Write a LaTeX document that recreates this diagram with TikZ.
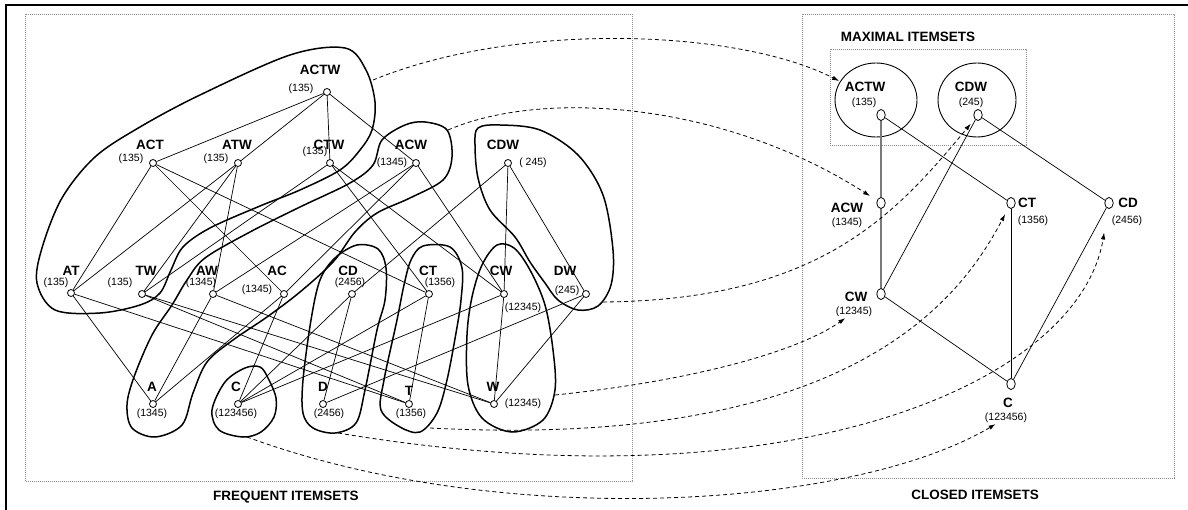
\documentclass[tikz,border=0pt]{standalone}
\usepackage{fontspec}
\setmainfont{Liberation Sans}
\usepackage{tikz}
\usetikzlibrary{arrows.meta,shapes.geometric}
\usepackage{xcolor}
\definecolor{ink}{HTML}{000000}
\definecolor{frame}{HTML}{8C8C8C}
\definecolor{chain}{HTML}{7A7A7A}
\tikzset{
  >=Latex,
  every node/.style={text=ink},
  vtx/.style={circle,draw=ink,fill=white,line width=0.8pt,inner sep=0pt,minimum size=7pt},
  cvtx/.style={ellipse,draw=ink,fill=white,line width=0.8pt,inner sep=0pt,minimum width=8.5pt,minimum height=11pt},
  iset/.style={font=\fontsize{13.5}{15}\selectfont\bfseries,inner sep=1pt},
  tid/.style={font=\fontsize{10.5}{12}\selectfont,inner sep=1pt},
  heading/.style={font=\fontsize{13.5}{15}\selectfont\bfseries,inner sep=1pt},
  lat/.style={draw=ink,line width=0.7pt},
  chainarr/.style={draw=chain,line width=1.3pt},
  blob/.style={draw=ink,line width=1.5pt},
  region/.style={draw=frame,line width=0.7pt,dash pattern=on 0.7pt off 1.3pt},
  mapto/.style={-{Latex[length=7pt,width=4.5pt]},draw=ink,line width=0.8pt,dash pattern=on 4pt off 3pt},
  maxset/.style={ellipse,draw=ink,line width=0.9pt,minimum width=82pt,minimum height=74pt,inner sep=0pt},
}

\begin{document}
\begin{tikzpicture}[x=1pt,y=-1pt]
\useasboundingbox (0,0) rectangle (1188,510);

% Frame and panels
\draw[line width=2.5pt] (6,510) -- (6,5) -- (1188,5);
\draw[region] (25,14) rectangle (632,481);
\draw[region] (802,14) rectangle (1174,478);
\draw[region] (830,49) rectangle (1026,145);
\node[heading] (freq) at (286,497) {FREQUENT ITEMSETS};
\node[heading] (closed) at (975,495) {CLOSED ITEMSETS};
\node[heading] (maximal) at (908,37) {MAXIMAL ITEMSETS};

% Frequent itemsets: equivalence classes
\draw[blob] plot[smooth cycle,tension=0.55] coordinates {(37,283) (42,248) (62,198) (95,157) (140,127) (200,95) (290,55) (345,48) (366,70) (375,102) (372,130) (360,150) (340,170) (300,190) (260,206) (210,228) (183,247) (171,270) (160,293) (140,305) (100,313) (55,310)};
\draw[blob] plot[smooth cycle,tension=0.55] coordinates {(405,125) (425,122) (447,130) (452,157) (443,180) (410,198) (377,213) (355,232) (333,262) (300,292) (267,317) (233,340) (207,362) (193,393) (182,425) (155,437) (132,428) (127,405) (134,377) (152,335) (172,305) (187,280) (205,258) (250,232) (300,207) (350,183) (373,165) (382,140)};
\draw[blob] plot[smooth cycle,tension=0.55] coordinates {(212,410) (225,382) (245,368) (260,367) (268,378) (276,398) (274,417) (261,432) (243,437) (219,430)};
\draw[blob] plot[smooth cycle,tension=0.55] coordinates {(357,245) (378,249) (386,268) (385,300) (377,330) (365,390) (356,423) (335,433) (313,428) (303,413) (303,380) (311,320) (320,280) (335,258)};
\draw[blob] plot[smooth cycle,tension=0.55] coordinates {(423,246) (450,247) (462,268) (461,300) (456,333) (447,380) (437,413) (420,432) (400,427) (381,410) (384,380) (397,320) (404,285) (411,260)};
\draw[blob] plot[smooth cycle,tension=0.55] coordinates {(497,245) (514,248) (530,270) (545,305) (553,350) (555,390) (543,420) (512,432) (482,418) (468,385) (467,335) (472,297) (482,265)};
\draw[blob] plot[smooth cycle,tension=0.55] coordinates {(478,128) (500,125) (540,130) (578,155) (603,195) (613,250) (611,285) (598,306) (578,310) (558,300) (545,283) (530,262) (515,237) (490,210) (478,178) (475,145)};

% Frequent itemsets: lattice
\node[vtx] (actw) at (327,92) {};
\node[vtx] (act) at (153,163) {};
\node[vtx] (atw) at (238,163) {};
\node[vtx] (ctw) at (330,163) {};
\node[vtx] (acw) at (416,163) {};
\node[vtx] (cdw) at (508,163) {};
\node[vtx] (at) at (71,293) {};
\node[vtx] (tw) at (142,294) {};
\node[vtx] (aw) at (213,294) {};
\node[vtx] (ac) at (284,294) {};
\node[vtx] (cd) at (352,294) {};
\node[vtx] (ct) at (429,294) {};
\node[vtx] (cw) at (504,294) {};
\node[vtx] (dw) at (586,294) {};
\node[vtx] (a) at (153,404) {};
\node[vtx] (c) at (238,404) {};
\node[vtx] (d) at (323,404) {};
\node[vtx] (t) at (409,404) {};
\node[vtx] (w) at (494,404) {};

\draw[lat] (actw) -- (act);
\draw[lat] (actw) -- (atw);
\draw[lat] (actw) -- (ctw);
\draw[lat] (actw) -- (acw);
\draw[lat] (act) -- (at);
\draw[lat] (act) -- (ac);
\draw[lat] (act) -- (ct);
\draw[lat] (atw) -- (at);
\draw[lat] (atw) -- (tw);
\draw[lat] (atw) -- (aw);
\draw[lat] (ctw) -- (tw);
\draw[lat] (ctw) -- (ct);
\draw[lat] (ctw) -- (cw);
\draw[lat] (acw) -- (aw);
\draw[lat] (acw) -- (ac);
\draw[lat] (acw) -- (cw);
\draw[lat] (cdw) -- (cd);
\draw[lat] (cdw) -- (cw);
\draw[lat] (cdw) -- (dw);
\draw[lat] (at) -- (a);
\draw[lat] (at) -- (t);
\draw[lat] (tw) -- (t);
\draw[lat] (tw) -- (w);
\draw[lat] (aw) -- (a);
\draw[lat] (aw) -- (w);
\draw[lat] (ac) -- (a);
\draw[lat] (ac) -- (c);
\draw[lat] (cd) -- (c);
\draw[lat] (cd) -- (d);
\draw[lat] (ct) -- (c);
\draw[lat] (ct) -- (t);
\draw[lat] (cw) -- (c);
\draw[lat] (cw) -- (w);
\draw[lat] (dw) -- (d);
\draw[lat] (dw) -- (w);

\node[iset] (actw-n) at (320,70) {ACTW};
\node[tid] (actw-t) at (301,89) {(135)};
\node[iset] (act-n) at (150,145) {ACT};
\node[tid] (act-t) at (131,159) {(135)};
\node[iset] (atw-n) at (237,145) {ATW};
\node[tid] (atw-t) at (216,159) {(135)};
\node[iset] (ctw-n) at (329,145) {CTW};
\node[tid] (ctw-t) at (315,152) {(135)};
\node[iset] (acw-n) at (411,145) {ACW};
\node[tid] (acw-t) at (392,163) {(1345)};
\node[iset] (cdw-n) at (503,145) {CDW};
\node[tid] (cdw-t) at (533,163) {( 245)};
\node[iset] (at-n) at (71,271) {AT};
\node[tid] (at-t) at (56,283) {(135)};
\node[iset] (tw-n) at (146,271) {TW};
\node[tid] (tw-t) at (120,283) {(135)};
\node[iset] (aw-n) at (207,271) {AW};
\node[tid] (aw-t) at (201,283) {(1345)};
\node[iset] (ac-n) at (277,271) {AC};
\node[tid] (ac-t) at (257,290) {(1345)};
\node[iset] (cd-n) at (348,271) {CD};
\node[tid] (cd-t) at (350,283) {(2456)};
\node[iset] (ct-n) at (428,271) {CT};
\node[tid] (ct-t) at (440,283) {(1356)};
\node[iset] (cw-n) at (501,271) {CW};
\node[tid] (cw-t) at (523,308) {(12345)};
\node[iset] (dw-n) at (565,271) {DW};
\node[tid] (dw-t) at (567,291) {(245)};
\node[iset] (a-n) at (152,387) {A};
\node[tid] (a-t) at (152,414) {(1345)};
\node[iset] (c-n) at (236,387) {C};
\node[tid] (c-t) at (236,414) {(123456)};
\node[iset] (d-n) at (323,387) {D};
\node[tid] (d-t) at (329,414) {(2456)};
\node[iset] (t-n) at (409,391) {T};
\node[tid] (t-t) at (411,414) {(1356)};
\node[iset] (w-n) at (493,387) {W};
\node[tid] (w-t) at (523,404) {(12345)};

% Closed itemsets
\node[maxset] (maxactw) at (876,100) {};
\node[maxset,minimum width=78pt] (maxcdw) at (977,100) {};
\node[cvtx] (cactw) at (881,115) {};
\node[cvtx] (ccdw) at (978,115) {};
\node[cvtx] (cacw) at (881,203) {};
\node[cvtx] (cct) at (1011,203) {};
\node[cvtx] (ccd) at (1109,203) {};
\node[cvtx] (ccw) at (881,294) {};
\node[cvtx] (cc) at (1011,384) {};
\draw[chainarr] (cactw) -- (cacw);
\draw[chainarr] (cacw) -- (ccw);
\draw[lat] (cactw) -- (cct);
\draw[lat] (ccdw) -- (ccw);
\draw[lat] (ccdw) -- (ccd);
\draw[lat] (cct) -- (cc);
\draw[lat] (ccd) -- (cc);
\draw[lat] (ccw) -- (cc);

\node[iset] (cactw-n) at (865,87) {ACTW};
\node[tid] (cactw-t) at (864,103) {(135)};
\node[iset] (ccdw-n) at (971,87) {CDW};
\node[tid] (ccdw-t) at (971,103) {(245)};
\node[iset] (cacw-n) at (847,208) {ACW};
\node[tid] (cacw-t) at (847,223) {(1345)};
\node[iset] (cct-n) at (1027,203) {CT};
\node[tid] (cct-t) at (1033,221) {(1356)};
\node[iset] (ccd-n) at (1128,203) {CD};
\node[tid] (ccd-t) at (1127,221) {(2456)};
\node[iset] (ccw-n) at (856,297) {CW};
\node[tid] (ccw-t) at (854,312) {(12345)};
\node[iset] (cc-n) at (1008,403) {C};
\node[tid] (cc-t) at (1006,418) {(123456)};

% Classes mapped to closed itemsets
\coordinate (m-actw) at (373,80);
\coordinate (m-acw) at (448,130);
\coordinate (m-cdw) at (603,302);
\coordinate (m-cw) at (555,395);
\coordinate (m-ct) at (430,428);
\coordinate (m-cd) at (338,433);
\coordinate (m-c) at (247,437);
\draw[mapto,shorten >=1pt] (m-actw) .. controls (520,20) and (740,30) .. (maxactw);
\draw[mapto,shorten >=8pt] (m-acw) .. controls (540,90) and (720,100) .. (cacw);
\draw[mapto,shorten >=6pt] (m-cdw) .. controls (820,300) and (895,215) .. (ccdw);
\draw[mapto] (m-cw) .. controls (700,380) and (800,350) .. (ccw-t);
\draw[mapto,shorten >=7pt] (m-ct) .. controls (850,450) and (960,300) .. (cct);
\draw[mapto,shorten >=24pt] (m-cd) .. controls (800,510) and (1080,380) .. (ccd);
\draw[mapto] (m-c) .. controls (500,530) and (850,510) .. (cc-t);

\end{tikzpicture}
\end{document}
